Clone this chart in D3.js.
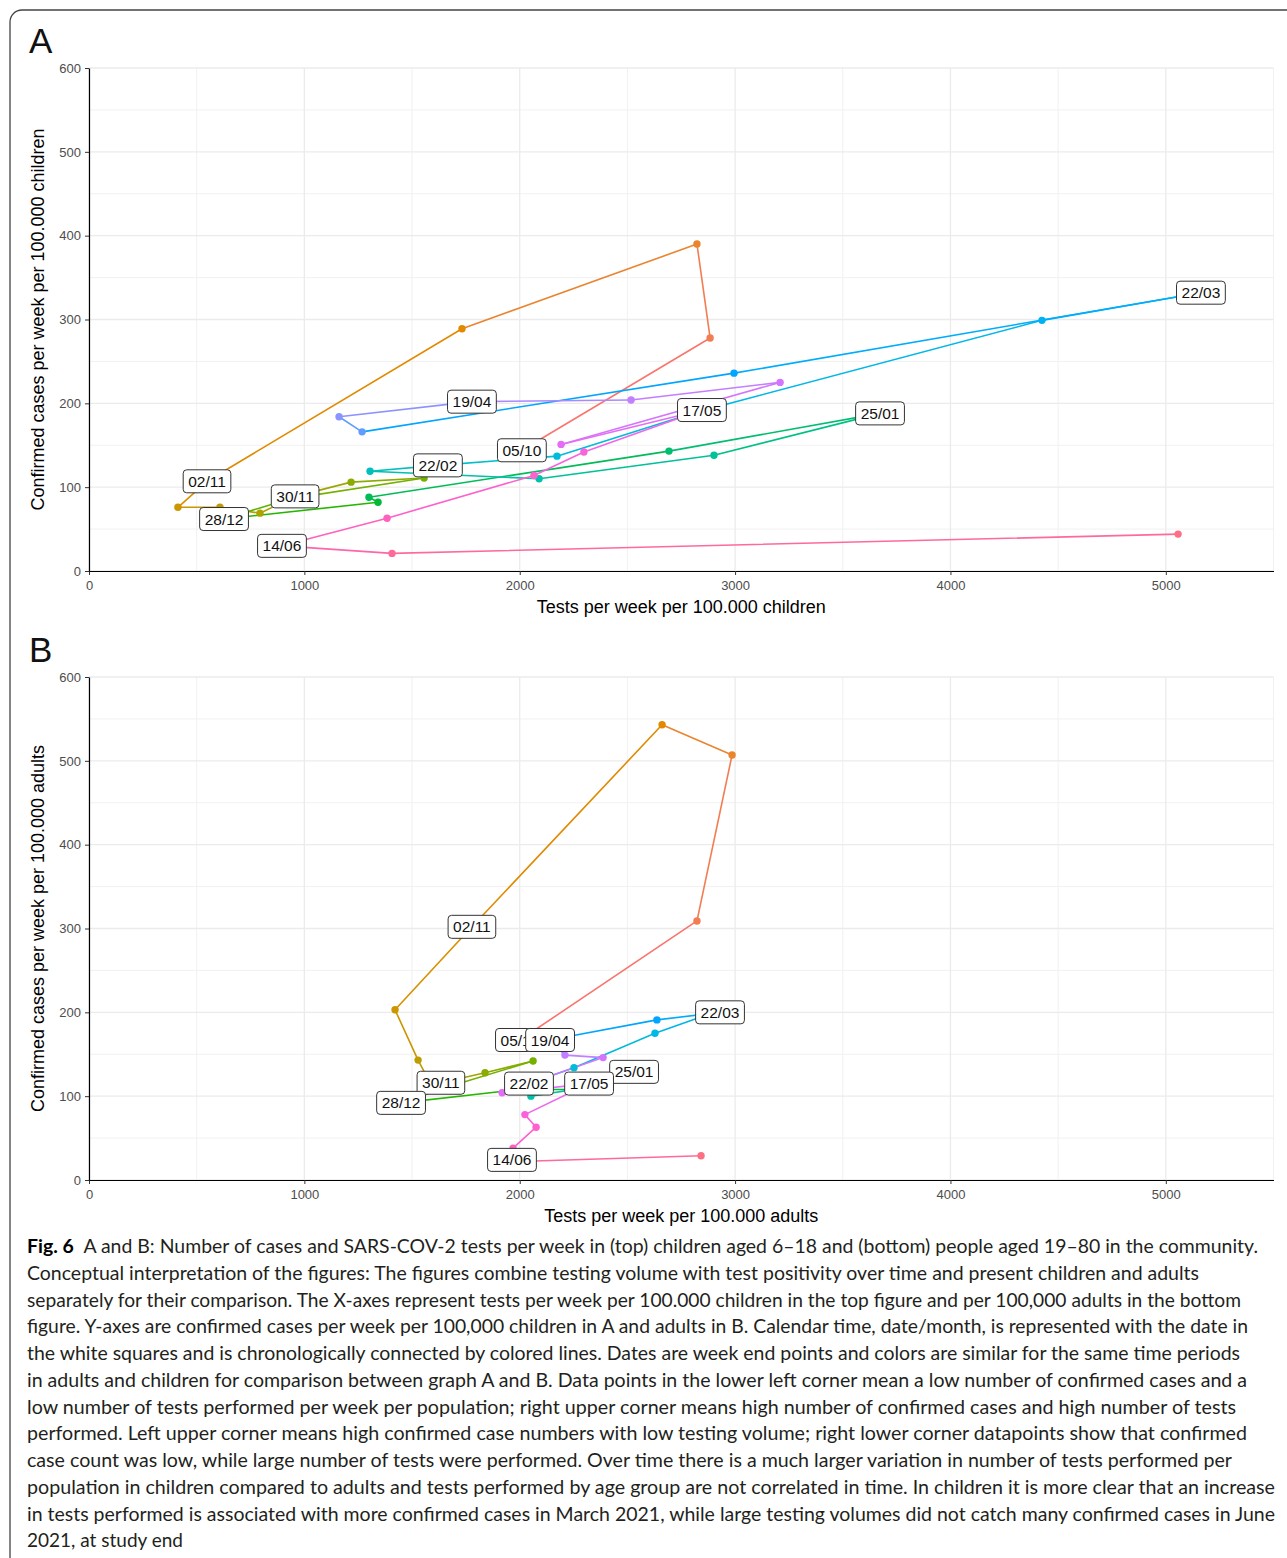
<!DOCTYPE html>
<html>
<head>
<meta charset="utf-8">
<script src="https://cdn.jsdelivr.net/npm/d3@7"></script>
<style>
  body { margin: 0; background: #fff; }
  svg { display: block; }
</style>
</head>
<body>
<svg id="fig" width="1287" height="1558"></svg>
<script>
// week end dates (one point per week, chronological)
var weeks = ["05/10", "12/10", "19/10", "26/10", "02/11", "09/11", "16/11", "23/11", "30/11",
  "07/12", "14/12", "21/12", "28/12", "04/01", "11/01", "18/01", "25/01", "01/02", "08/02",
  "15/02", "22/02", "01/03", "08/03", "15/03", "22/03", "29/03", "05/04", "12/04", "19/04",
  "26/04", "03/05", "10/05", "17/05", "24/05", "31/05", "07/06", "14/06", "21/06", "28/06"];

// weeks that get a white label
var labelWeeks = ["05/10", "02/11", "30/11", "28/12", "25/01", "22/02", "22/03", "19/04", "17/05", "14/06"];

// A: children (tests and confirmed cases per week per 100.000)
var testsA = [2010, 2884, 2823, 1732, 548, 413, 608, 794, 957, 1217, 1556, 930, 627, 1342, 1300,
  2693, 3673, 2902, 2090, 1305, 1620, 2173, 2800, 4425, 5163, 2995, 1268, 1161, 1778, 2517,
  3209, 2192, 2846, 2298, 2066, 1384, 896, 1407, 5057];
var casesA = [144, 278, 390, 289, 107, 76, 76, 69, 89, 106, 111, 86, 62, 82, 88,
  143, 188, 138, 110, 119, 126, 137, 188, 299, 332, 236, 166, 184, 202, 204,
  225, 151, 192, 142, 114, 63, 30, 21, 44];

// B: adults
var testsB = [2001, 2823, 2986, 2661, 1778, 1421, 1528, 1590, 1634, 1839, 2062, 1680, 1449, 2000,
  2250, 2400, 2531, 2350, 2052, 2000, 2043, 2252, 2628, 2880, 2930, 2637, 2200, 2100, 2141,
  2210, 2387, 1918, 2322, 2024, 2076, 1969, 1964, 1995, 2842];
var casesB = [167, 309, 507, 543, 302, 203, 143, 113, 116, 128, 142, 112, 92, 108,
  108, 118, 129, 112, 100, 110, 115, 134, 175, 198, 200, 191, 170, 166, 167,
  149, 146, 104, 115, 78, 63, 38, 24, 22, 29];

var xTicks = [0, 1000, 2000, 3000, 4000, 5000];
var yTicks = [0, 100, 200, 300, 400, 500, 600];

var captionLines = [
  "A and B: Number of cases and SARS-COV-2 tests per week in (top) children aged 6\u201318 and (bottom) people aged 19\u201380 in the community.",
  "Conceptual interpretation of the figures: The figures combine testing volume with test positivity over time and present children and adults",
  "separately for their comparison. The X-axes represent tests per week per 100.000 children in the top figure and per 100,000 adults in the bottom",
  "figure. Y-axes are confirmed cases per week per 100,000 children in A and adults in B. Calendar time, date/month, is represented with the date in",
  "the white squares and is chronologically connected by colored lines. Dates are week end points and colors are similar for the same time periods",
  "in adults and children for comparison between graph A and B. Data points in the lower left corner mean a low number of confirmed cases and a",
  "low number of tests performed per week per population; right upper corner means high number of confirmed cases and high number of tests",
  "performed. Left upper corner means high confirmed case numbers with low testing volume; right lower corner datapoints show that confirmed",
  "case count was low, while large number of tests were performed. Over time there is a much larger variation in number of tests performed per",
  "population in children compared to adults and tests performed by age group are not correlated in time. In children it is more clear that an increase",
  "in tests performed is associated with more confirmed cases in March 2021, while large testing volumes did not catch many confirmed cases in June",
  "2021, at study end"
];
// right end of each caption line in the page
var captionRight = [1258, 1199, 1241, 1248, 1240, 1247, 1236, 1247, 1232, 1275, 1275, 0];

var svg = d3.select("#fig");
var FONT = "'Liberation Sans', Arial, Helvetica, sans-serif";

// ggplot2 default hue palette: hcl(h, c = 100, l = 65) in polar Luv
function hueColor(h) {
  var L = 65, C = 100;
  var hr = h * Math.PI / 180;
  var u = C * Math.cos(hr), v = C * Math.sin(hr);
  var Xn = 95.047, Yn = 100, Zn = 108.883;
  var den = Xn + 15 * Yn + 3 * Zn;
  var un = 4 * Xn / den, vn = 9 * Yn / den;
  var Y = Yn * Math.pow((L + 16) / 116, 3);
  var up = u / (13 * L) + un, vp = v / (13 * L) + vn;
  var X = Y * 9 * up / (4 * vp);
  var Z = Y * (12 - 3 * up - 20 * vp) / (4 * vp);
  X /= 100; Y /= 100; Z /= 100;
  var rgb = [
    3.2404542 * X - 1.5371385 * Y - 0.4985314 * Z,
    -0.9692660 * X + 1.8760108 * Y + 0.0415560 * Z,
    0.0556434 * X - 0.2040259 * Y + 1.0572252 * Z
  ].map(function (c) {
    c = c <= 0.0031308 ? 12.92 * c : 1.055 * Math.pow(c, 1 / 2.4) - 0.055;
    return Math.round(Math.max(0, Math.min(1, c)) * 255);
  });
  return d3.rgb(rgb[0], rgb[1], rgb[2]).formatHex();
}

var colors = weeks.map(function (d, i) {
  return hueColor(15 + 360 * i / weeks.length);
});

// outer frame of the figure
svg.append("path")
  .attr("d", "M1295,10 H22 A12,12 0 0 0 10,22 V1565")
  .attr("fill", "none")
  .attr("stroke", "#444")
  .attr("stroke-width", 1.3);

var panels = [
  { letter: "A", tests: testsA, cases: casesA, top: 68, bottom: 571,
    xTitle: "Tests per week per 100.000 children",
    yTitle: "Confirmed cases per week per 100.000 children" },
  { letter: "B", tests: testsB, cases: casesB, top: 677, bottom: 1180,
    xTitle: "Tests per week per 100.000 adults",
    yTitle: "Confirmed cases per week per 100.000 adults" }
];

panels.forEach(drawPanel);
drawCaption();

function drawPanel(p) {
  var left = 89, right = 1273.5;
  var x = d3.scaleLinear().domain([0, 5500]).range([left, right]);
  var y = d3.scaleLinear().domain([0, 600]).range([p.bottom, p.top]);
  var g = svg.append("g");

  // panel letter
  svg.append("text")
    .attr("x", 29)
    .attr("y", p.top - 15)
    .attr("font-family", FONT)
    .attr("font-size", 35)
    .attr("fill", "#111")
    .text(p.letter);

  // grid, minor then major
  var grid = g.append("g");
  d3.range(500, 5501, 1000).forEach(function (v) {
    grid.append("line").attr("x1", x(v)).attr("x2", x(v)).attr("y1", p.top).attr("y2", p.bottom)
      .attr("stroke", "#f1f1f1").attr("stroke-width", 1);
  });
  d3.range(50, 600, 100).forEach(function (v) {
    grid.append("line").attr("x1", left).attr("x2", right).attr("y1", y(v)).attr("y2", y(v))
      .attr("stroke", "#f1f1f1").attr("stroke-width", 1);
  });
  xTicks.forEach(function (v) {
    grid.append("line").attr("x1", x(v)).attr("x2", x(v)).attr("y1", p.top).attr("y2", p.bottom)
      .attr("stroke", "#ebebeb").attr("stroke-width", 1.3);
  });
  yTicks.forEach(function (v) {
    grid.append("line").attr("x1", left).attr("x2", right).attr("y1", y(v)).attr("y2", y(v))
      .attr("stroke", "#ebebeb").attr("stroke-width", 1.3);
  });

  // axes
  var xAxis = g.append("g")
    .attr("transform", "translate(0," + p.bottom + ")")
    .call(d3.axisBottom(x).tickValues(xTicks).tickFormat(d3.format("d"))
      .tickSize(4).tickSizeOuter(0).tickPadding(6));
  var yAxis = g.append("g")
    .attr("transform", "translate(" + left + ",0)")
    .call(d3.axisLeft(y).tickValues(yTicks).tickFormat(d3.format("d"))
      .tickSize(4).tickSizeOuter(0).tickPadding(4));
  [xAxis, yAxis].forEach(function (a) {
    a.select(".domain").attr("stroke", "#000").attr("stroke-width", 1.2);
    a.selectAll(".tick line").attr("stroke", "#333").attr("stroke-width", 1);
    a.selectAll(".tick text")
      .attr("font-family", FONT)
      .attr("font-size", 13)
      .attr("fill", "#4d4d4d");
  });

  // axis titles
  g.append("text")
    .attr("x", (left + right) / 2)
    .attr("y", p.bottom + 42)
    .attr("text-anchor", "middle")
    .attr("font-family", FONT)
    .attr("font-size", 18)
    .attr("fill", "#000")
    .text(p.xTitle);
  g.append("text")
    .attr("transform", "translate(44," + (p.top + p.bottom) / 2 + ") rotate(-90)")
    .attr("text-anchor", "middle")
    .attr("font-family", FONT)
    .attr("font-size", 18)
    .attr("fill", "#000")
    .text(p.yTitle);

  // chronological path, each segment takes the colour of the week it starts from
  var pts = weeks.map(function (w, i) {
    return { week: w, i: i, x: x(p.tests[i]), y: y(p.cases[i]) };
  });
  g.append("g").selectAll("line")
    .data(pts.slice(0, -1))
    .join("line")
    .attr("x1", function (d) { return d.x; })
    .attr("y1", function (d) { return d.y; })
    .attr("x2", function (d) { return pts[d.i + 1].x; })
    .attr("y2", function (d) { return pts[d.i + 1].y; })
    .attr("stroke", function (d) { return colors[d.i]; })
    .attr("stroke-width", 1.6)
    .attr("stroke-linecap", "round");

  g.append("g").selectAll("circle")
    .data(pts)
    .join("circle")
    .attr("cx", function (d) { return d.x; })
    .attr("cy", function (d) { return d.y; })
    .attr("r", 3.7)
    .attr("fill", function (d) { return colors[d.i]; });

  // date labels, later weeks drawn on top
  var labs = g.append("g");
  pts.filter(function (d) { return labelWeeks.indexOf(d.week) >= 0; }).forEach(function (d) {
    var lg = labs.append("g").attr("transform", "translate(" + d.x + "," + d.y + ")");
    var rect = lg.append("rect");
    var t = lg.append("text")
      .attr("text-anchor", "middle")
      .attr("dy", "0.36em")
      .attr("font-family", FONT)
      .attr("font-size", 15.5)
      .attr("fill", "#111")
      .text(d.week);
    var w = t.node().getComputedTextLength() + 10;
    rect.attr("x", -w / 2).attr("y", -11.5)
      .attr("width", w).attr("height", 23)
      .attr("rx", 3.5)
      .attr("fill", "#fff")
      .attr("stroke", "#333")
      .attr("stroke-width", 1);
  });
}

function drawCaption() {
  var cg = svg.append("g")
    .attr("font-family", "Lato, 'Noto Sans', sans-serif")
    .attr("font-size", 19)
    .attr("fill", "#231f20");
  captionLines.forEach(function (line, i) {
    var t = cg.append("text")
      .attr("x", 27)
      .attr("y", 1253 + i * 26.75);
    if (i === 0) {
      t.append("tspan").attr("font-weight", "bold").attr("fill", "#000").text("Fig. 6");
      t.append("tspan").text("\u2002" + line);
    } else {
      t.text(line);
    }
    if (captionRight[i] > 0) {
      t.attr("textLength", captionRight[i] - 27).attr("lengthAdjust", "spacingAndGlyphs");
    }
  });
}
</script>
</body>
</html>
